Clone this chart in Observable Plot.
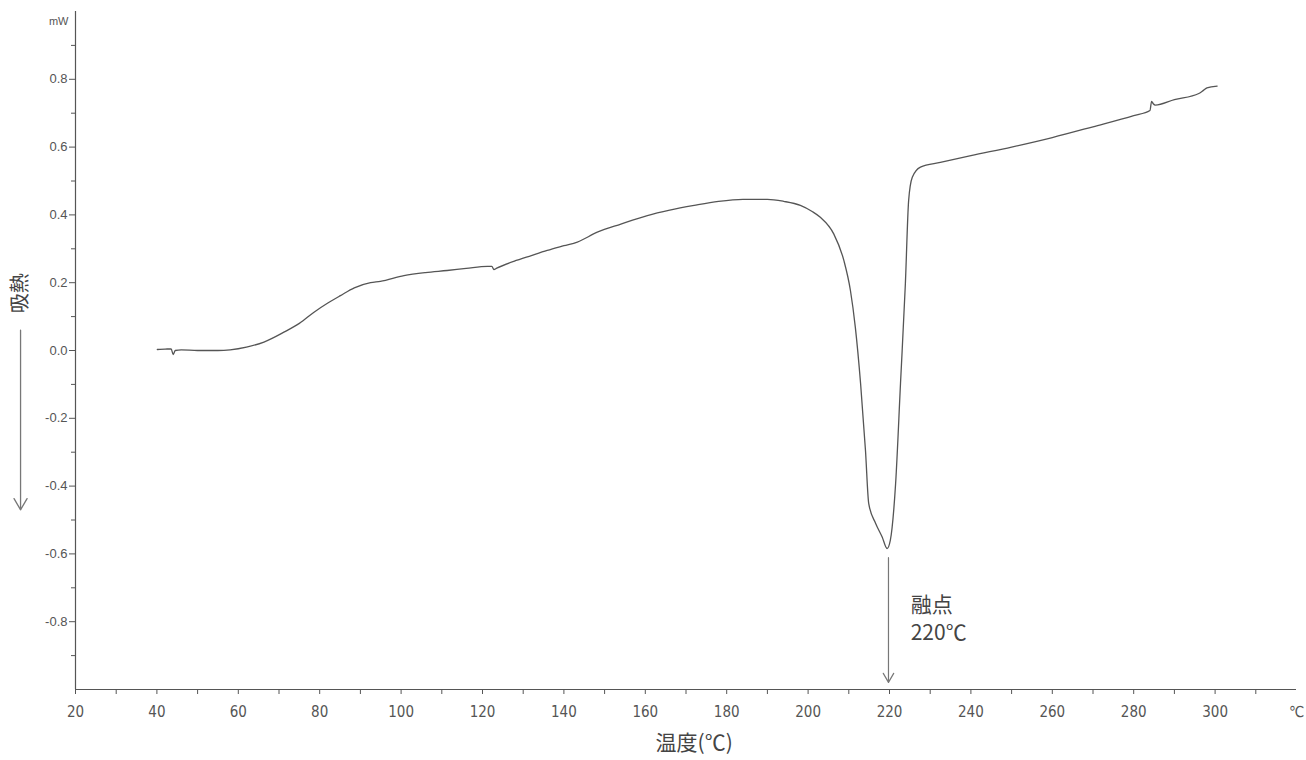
<!DOCTYPE html>
<html>
<head>
<meta charset="utf-8">
<script src="https://cdn.jsdelivr.net/npm/d3@7"></script>
<script src="https://cdn.jsdelivr.net/npm/@observablehq/plot@0.6"></script>
<style>
  html, body { margin: 0; padding: 0; background: #fff; }
</style>
</head>
<body>
<div id="chart"></div>
<script>
// DSC curve: temperature (°C) vs heat flow (mW)
const temps = [40.1, 42, 43.5, 44.0, 44.5, 46, 50, 55, 58, 62, 66.3, 71.2, 75, 78.6, 82, 85.1, 88.5, 92.5, 94.9, 100.7, 106, 111.3, 116, 121.2, 122.3, 122.8, 123.5, 127.7, 132, 135.9, 140, 143.3, 148.2, 154, 160.5, 166, 172, 178, 184, 190, 194, 198.1, 201, 203.0, 206.3, 208.8, 210.4, 211.6, 212.9, 214.1, 214.9, 216.6, 218.2, 219.4, 220.2, 221.5, 222.7, 223.9, 224.7, 225.6, 227.6, 232.5, 240, 250, 260, 270, 280, 284.0, 284.4, 284.8, 285.3, 290, 296, 297.2, 298, 300.5];
const heatFlow = [0.003, 0.004, 0.005, -0.012, 0.0, 0.002, 0.0, 0.0, 0.002, 0.01, 0.025, 0.054, 0.08, 0.113, 0.14, 0.162, 0.185, 0.2, 0.204, 0.221, 0.23, 0.236, 0.242, 0.248, 0.248, 0.239, 0.243, 0.263, 0.28, 0.295, 0.309, 0.32, 0.349, 0.373, 0.398, 0.414, 0.428, 0.44, 0.446, 0.446, 0.44, 0.428, 0.41, 0.393, 0.344, 0.265, 0.177, 0.069, -0.098, -0.295, -0.452, -0.51, -0.55, -0.584, -0.56, -0.393, -0.098, 0.197, 0.442, 0.511, 0.541, 0.555, 0.575, 0.6, 0.628, 0.66, 0.693, 0.708, 0.735, 0.728, 0.724, 0.74, 0.758, 0.768, 0.775, 0.78];

// Axis ticks and labels
const xLabelTicks = [20, 40, 60, 80, 100, 120, 140, 160, 180, 200, 220, 240, 260, 280, 300, 320];
const xTickLabels = ["20", "40", "60", "80", "100", "120", "140", "160", "180", "200", "220", "240", "260", "280", "300", "℃"];
const xMarkTicks = [20, 30, 40, 50, 60, 70, 80, 90, 100, 110, 120, 130, 140, 150, 160, 170, 180, 190, 200, 210, 220, 230, 240, 250, 260, 270, 280, 290, 300, 310];
const yMajorTicks = [0.8, 0.6, 0.4, 0.2, 0.0, -0.2, -0.4, -0.6, -0.8];
const yTickLabels = ["0.8", "0.6", "0.4", "0.2", "0.0", "-0.2", "-0.4", "-0.6", "-0.8"];
const yMinorTicks = [0.9, 0.7, 0.5, 0.3, 0.1, -0.1, -0.3, -0.5, -0.7, -0.9];

// Text
const unitLabel = "mW";
const yTitle = "吸熱";
const xTitle = "温度(℃)";
const peakLines = ["融点", "220℃"];

// Annotation anchors (data units)
const peakArrow = [{x: 219.75, y1: -0.611, y2: -0.979}];
const peakTextX = 225.2;
const peakTextY = [-0.752, -0.835];
const yTitleArrow = [{x: 6.5, y1: 0.06, y2: -0.47}];

const data = temps.map((t, i) => ({t, v: heatFlow[i]}));
const xLabelMap = new Map(xLabelTicks.map((d, i) => [d, xTickLabels[i]]));
const yLabelMap = new Map(yMajorTicks.map((d, i) => [d, yTickLabels[i]]));
const peakText = peakLines.map((s, i) => ({s, x: peakTextX, y: peakTextY[i]}));

const axisColor = "#555";
const textColor = "#555";

const chart = Plot.plot({
  width: 1306,
  height: 760,
  marginLeft: 75,
  marginRight: 10,
  marginTop: 11,
  marginBottom: 71,
  style: {background: "#fff", color: textColor, fontFamily: "'Liberation Sans', sans-serif"},
  x: {domain: [20, 320], axis: null},
  y: {domain: [-1, 1], axis: null},
  marks: [
    // axis lines
    Plot.ruleY([-1], {x1: 20, x2: 320, stroke: axisColor, strokeWidth: 1.2}),
    Plot.ruleX([20], {y1: -1, y2: 1, stroke: axisColor, strokeWidth: 1.2}),
    // x ticks
    Plot.axisX({ticks: xMarkTicks, tickSize: 5, tickFormat: () => "", stroke: axisColor, label: null}),
    Plot.axisX({ticks: xLabelTicks, tickSize: 0, tickPadding: 17, tickFormat: d => xLabelMap.get(d),
      fontSize: 15, fontFamily: "'Liberation Sans Narrow', 'DejaVu Sans Condensed', sans-serif", fill: textColor, label: null}),
    // y ticks
    Plot.axisY({ticks: yMinorTicks, tickSize: 4, tickFormat: () => "", stroke: axisColor, label: null}),
    Plot.axisY({ticks: yMajorTicks, tickSize: 6, tickPadding: 2, tickFormat: d => yLabelMap.get(d),
      fontSize: 13, fill: textColor, stroke: axisColor, label: null}),
    // unit label
    Plot.text([unitLabel], {x: 20, y: 0.97, dx: -7, textAnchor: "end", fontSize: 11, fill: textColor}),
    // axis titles
    Plot.text([xTitle], {x: 172, frameAnchor: "bottom", dy: 60, fontSize: 21,
      fontFamily: "'Noto Sans CJK JP', sans-serif", fill: "#444"}),
    Plot.text([yTitle], {frameAnchor: "left", y: 0.11, dx: -55, rotate: -90, fontSize: 20,
      fontFamily: "'Noto Sans CJK JP', sans-serif", fill: "#444"}),
    Plot.arrow(yTitleArrow, {x1: "x", x2: "x", y1: "y1", y2: "y2", stroke: "#777", strokeWidth: 1.3,
      headLength: 15, headAngle: 60}),
    // curve
    Plot.line(data, {x: "t", y: "v", stroke: "#555", strokeWidth: 1.3, curve: "monotone-x"}),
    // melting point annotation
    Plot.arrow(peakArrow, {x1: "x", x2: "x", y1: "y1", y2: "y2", stroke: "#777", strokeWidth: 1.2,
      headLength: 13, headAngle: 60}),
    Plot.text(peakText, {x: "x", y: "y", text: "s", textAnchor: "start",
      fontSize: 21, fontFamily: "'Noto Sans CJK JP', sans-serif", fill: "#444"})
  ]
});

document.getElementById("chart").appendChild(chart);
</script>
</body>
</html>
